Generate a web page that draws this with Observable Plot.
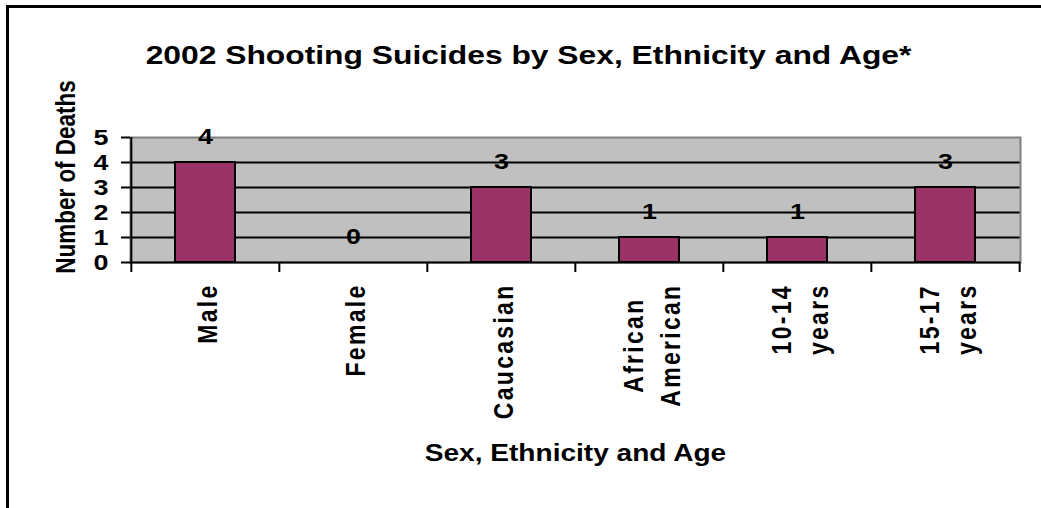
<!DOCTYPE html>
<html><head><meta charset="utf-8">
<script src="https://cdn.jsdelivr.net/npm/d3@7"></script>
<script src="https://cdn.jsdelivr.net/npm/@observablehq/plot@0.6"></script>
<style>
html,body{margin:0;padding:0;background:#fff;overflow:hidden;width:1041px;height:508px;}
body{position:relative;font-family:"Liberation Sans",Arial,sans-serif;color:#000;}
#frame{position:absolute;left:6px;top:5px;width:1100px;height:600px;border:3px solid #000;box-sizing:border-box;pointer-events:none;}
#title{position:relative;height:100px;}
#title span{position:absolute;top:40px;left:0;width:1057px;text-align:center;font-size:26.5px;font-weight:bold;line-height:30px;white-space:nowrap;transform:scaleX(1.2);transform-origin:528.5px 0;}
#chart{position:relative;height:330px;}
#chart svg{display:block;overflow:visible;}
#xtitle{position:relative;height:78px;}
#xtitle span{position:absolute;top:9px;left:0;width:1151px;text-align:center;font-size:23px;font-weight:bold;line-height:28px;white-space:nowrap;transform:scaleX(1.22);transform-origin:575.5px 0;}
</style></head>
<body>
<div id="frame"></div>
<div id="title"><span>2002 Shooting Suicides by Sex, Ethnicity and Age*</span></div>
<div id="chart"></div>
<div id="xtitle"><span>Sex, Ethnicity and Age</span></div>
<script>
const categories = ["Male", "Female", "Caucasian", "African American", "10-14 years", "15-17 years"];
const deaths = [4, 0, 3, 1, 1, 3];
const tickLabels = ["Male", "Female", "Caucasian", "African\nAmerican", "10-14\nyears", "15-17\nyears"];
const yTicks = [0, 1, 2, 3, 4, 5];
const gridValues = [1, 2, 3, 4];
const yTitle = "Number of Deaths";

const data = categories.map((c, i) => ({category: c, value: deaths[i]}));

const W = 1041, ML = 130, MR = 21;
const step = (W - ML - MR) / categories.length;
const bold = {fontWeight: "bold"};
const K = 1.22; // horizontal stretch of the original rendering

const chart = Plot.plot({
  width: W, height: 330,
  marginLeft: ML, marginRight: MR, marginTop: 37, marginBottom: 168,
  style: {fontFamily: "'Liberation Sans', Arial, sans-serif", background: "transparent", color: "#000", overflow: "visible"},
  x: {domain: categories, padding: 0, axis: null},
  y: {domain: [0, 5], axis: null},
  marks: [
    Plot.frame({fill: "#c0c0c0"}),
    Plot.ruleY(gridValues, {stroke: "#000", strokeWidth: 2}),
    Plot.frame({stroke: "#808080", strokeWidth: 2}),
    Plot.barY(data, {x: "category", y: "value", fill: "#993366", stroke: "#000", strokeWidth: 2, insetLeft: 44, insetRight: 44}),
    Plot.ruleY([0], {stroke: "#000", strokeWidth: 2}),
    Plot.ruleX([categories[0]], {x: d => d, dx: -step / 2, y1: 0, y2: 5, stroke: "#000", strokeWidth: 2}),
    Plot.ruleX(categories, {x: d => d, dx: -step / 2, y1: 0, y2: 0, insetBottom: -10, stroke: "#000", strokeWidth: 2}),
    Plot.ruleX([categories[categories.length - 1]], {x: d => d, dx: step / 2, y1: 0, y2: 0, insetBottom: -10, stroke: "#000", strokeWidth: 2}),
    Plot.axisY({ticks: yTicks, tickSize: 9, tickPadding: 13, fontSize: 22, ...bold, label: null, strokeWidth: 2, tickFormat: d => String(d)}),
    Plot.axisX({tickSize: 0, tickPadding: 21, tickRotate: -90, fontSize: 23, ...bold, label: null, lineHeight: 1.6 / K,
      tickFormat: d => tickLabels[categories.indexOf(d)]}),
    Plot.text(data, {x: "category", y: "value", text: d => String(d.value), dy: -19, lineAnchor: "bottom", fontSize: 22, ...bold}),
    Plot.text([yTitle], {frameAnchor: "left", dx: -64, dy: -23, rotate: -90, textAnchor: "middle", fontSize: 22.5, ...bold})
  ]
});
document.getElementById("chart").appendChild(chart);

// horizontal stretch of upright glyphs
const stretchH = t => {
  const w = t.getComputedTextLength();
  if (w > 0) {
    t.setAttribute("textLength", (w * K).toFixed(2));
    t.setAttribute("lengthAdjust", "spacingAndGlyphs");
  }
};
// rotated text: stretch glyph height (page x) via a local scale
const stretchRot = t => {
  const tr = t.getAttribute("transform");
  if (tr && tr.includes("rotate")) t.setAttribute("transform", tr + ` scale(1,${K})`);
};
chart.querySelectorAll('g[aria-label="y-axis tick label"] text').forEach(stretchH);
const textGroups = chart.querySelectorAll('g[aria-label="text"]');
if (textGroups[0]) textGroups[0].querySelectorAll("text").forEach(stretchH);
if (textGroups[1]) textGroups[1].querySelectorAll("text").forEach(stretchRot);

// x tick labels: letter-spaced, lines centred on each other, block ending near the axis
chart.querySelectorAll('g[aria-label="x-axis tick label"] text').forEach(t => {
  t.style.letterSpacing = "2.3px";
  const spans = t.querySelectorAll("tspan");
  if (spans.length > 1) {
    let L = 0;
    spans.forEach(s => { L = Math.max(L, s.getComputedTextLength()); });
    t.setAttribute("text-anchor", "middle");
    spans.forEach(s => s.setAttribute("x", (-L / 2).toFixed(2)));
  }
  stretchRot(t);
});
</script>
</body></html>
